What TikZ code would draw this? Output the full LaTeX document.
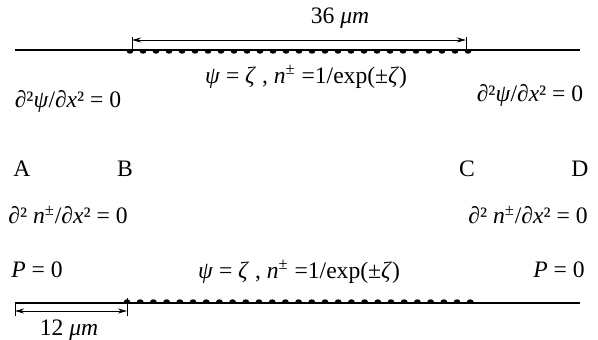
\documentclass[tikz,border=0pt]{standalone}
\usepackage{fontspec}
\setmainfont{Liberation Serif}
\usetikzlibrary{arrows.meta}

\begin{document}
\begin{tikzpicture}[x=0.5pt, y=-0.5pt,
   every node/.style={font=\fontsize{11.8}{14}\selectfont, inner sep=0pt},
   wall/.style={line width=1pt},
   dim/.style={line width=0.45pt},
   dimarrow/.style={dim, {Stealth[length=4.5pt,width=2.5pt]}-{Stealth[length=4.5pt,width=2.5pt]}}]

   \useasboundingbox (0,0) rectangle (598,339);

   % Define the walls
   \coordinate (top_a) at (15,50);
   \coordinate (top_b) at (130,50);
   \coordinate (top_c) at (468,50);
   \coordinate (top_d) at (580,50);
   \coordinate (bot_a) at (15,303);
   \coordinate (bot_b) at (127,303);
   \coordinate (bot_c) at (470,303);
   \coordinate (bot_d) at (580,303);

   \draw[wall] (top_a) -- (top_d);
   \draw[wall] (bot_a) -- (bot_d);
   % charged (wavy) part of the walls
   \foreach \i in {0,...,26} \fill (130+13*\i, 51.5) ellipse[x radius=1.6pt, y radius=1.1pt];
   \foreach \i in {0,...,26} \fill (127+13.2*\i, 301.5) ellipse[x radius=1.6pt, y radius=1.1pt];

   % Define the dimension marks
   \coordinate (tick_tl) at (132,37);
   \coordinate (tick_tr) at (466,37);
   \coordinate (tick_bl) at (15,316);
   \coordinate (tick_br) at (127,316);
   \coordinate (tick_brt) at (127,298);
   \draw[dim] (tick_tl) -- (132,50);
   \draw[dim] (tick_tr) -- (466,51);
   \draw[dim] (bot_a) -- (tick_bl);
   \draw[dim] (tick_brt) -- (tick_br);
   \draw[dimarrow] (132,40) -- (466,40);
   \draw[dimarrow] (15,311) -- (127,311);

   % Define the labels
   \node (len36) at (340,18) {36 \textit{μm}};
   \node (len12) at (69,330) {12 \textit{μm}};

   \node (top_bc) at (306,77) {\textit{ψ} = \textit{ζ} , \textit{n}\textsuperscript{±} =1/exp(±\textit{ζ})};
   \node (bot_bc) at (299,272) {\textit{ψ} = \textit{ζ} , \textit{n}\textsuperscript{±} =1/exp(±\textit{ζ})};

   \node (psi_l) at (68,101) {∂²\textit{ψ}/∂\textit{x}² = 0};
   \node (psi_r) at (530,95) {∂²\textit{ψ}/∂\textit{x}² = 0};

   \node (pt_a) at (22,169) {A};
   \node (pt_b) at (125,169) {B};
   \node (pt_c) at (467,169) {C};
   \node (pt_d) at (580,169) {D};

   \node (ion_l) at (68,215) {∂² \textit{n}\textsuperscript{±}/∂\textit{x}² = 0};
   \node (ion_r) at (528,215) {∂² \textit{n}\textsuperscript{±}/∂\textit{x}² = 0};

   \node (p_l) at (37,270) {\textit{P} = 0};
   \node (p_r) at (559,270) {\textit{P} = 0};

\end{tikzpicture}
\end{document}
